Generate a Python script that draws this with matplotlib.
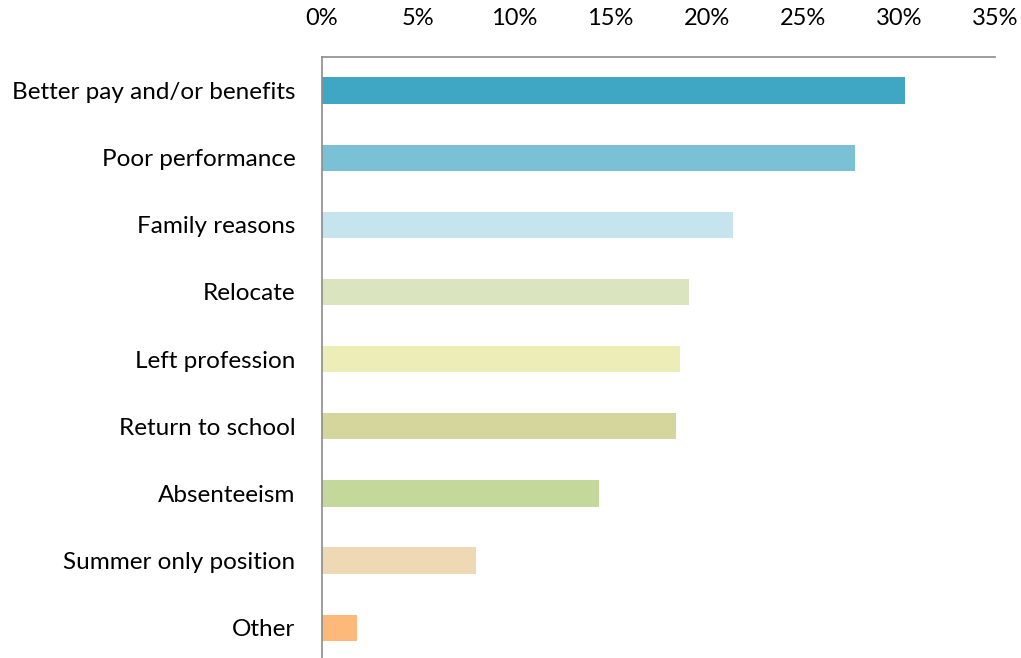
import matplotlib
matplotlib.use("Agg")
import matplotlib.pyplot as plt
from matplotlib.ticker import PercentFormatter

categories = [
    "Better pay and/or benefits",
    "Poor performance",
    "Family reasons",
    "Relocate",
    "Left profession",
    "Return to school",
    "Absenteeism",
    "Summer only position",
    "Other",
]
values = [30.3, 27.7, 21.4, 19.1, 18.6, 18.4, 14.4, 8.0, 1.8]
colors = [
    "#3FA6C4", "#7BC1D6", "#C5E4EE", "#DAE5C0", "#EDEDB8",
    "#D5D69C", "#C5D89C", "#EFD9B4", "#FDB97A",
]
ticks = [0, 5, 10, 15, 20, 25, 30, 35]

plt.rcParams["font.family"] = ["Lato", "DejaVu Sans"]

fig = plt.figure(figsize=(10.21, 6.58), dpi=100)
ax = fig.add_axes([322 / 1021, -0.005, (995 - 322) / 1021, 0.9184])

ypos = list(range(len(categories)))
ax.barh(ypos, values, height=0.39, color=colors)
ax.set_ylim(len(categories) - 0.5, -0.5)
ax.set_xlim(0, 35)
ax.set_yticks(ypos)
ax.set_yticklabels(categories, fontsize=17.5)
ax.set_xticks(ticks)
ax.xaxis.set_major_formatter(PercentFormatter(decimals=0))
ax.xaxis.tick_top()
ax.tick_params(axis="x", length=0, pad=20, labelsize=17)
ax.tick_params(axis="y", length=0, pad=19)

for side in ("right", "bottom"):
    ax.spines[side].set_visible(False)
for side in ("top", "left"):
    ax.spines[side].set_color("#8C8C8C")
    ax.spines[side].set_linewidth(1.2)

fig.savefig("out.png", dpi=100)
